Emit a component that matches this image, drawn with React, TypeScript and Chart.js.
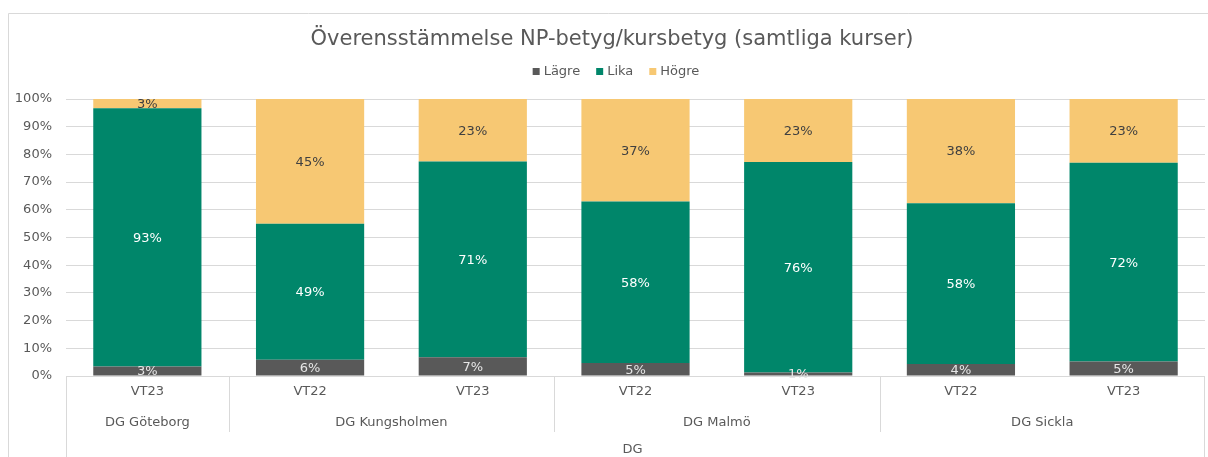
import React, { useEffect, useRef } from "react";
import { Chart, registerables } from "chart.js";

Chart.register(...registerables);

const titleText = "Överensstämmelse NP-betyg/kursbetyg (samtliga kurser)";
const categories = ["VT23", "VT22", "VT23", "VT22", "VT23", "VT22", "VT23"];
const groups = ["DG Göteborg", "DG Kungsholmen", "DG Kungsholmen", "DG Malmö", "DG Malmö", "DG Sickla", "DG Sickla"];
const topGroup = "DG";
const seriesNames = ["Lägre", "Lika", "Högre"];
const lagre = [3.4, 5.9, 6.8, 4.7, 1.3, 4.3, 5.2];
const lika = [93.3, 49.1, 70.6, 58.3, 76.0, 58.1, 71.8];
const hogre = [3.3, 45.0, 22.6, 37.0, 22.7, 37.6, 23.0];
const yTicks = [0, 10, 20, 30, 40, 50, 60, 70, 80, 90, 100];

const colors = ["#595959", "#00866A", "#F7C873"];
const labelColors = ["#E6E6E6", "#FFFFFF", "#404040"];
const FONT = "'DejaVu Sans', sans-serif";
const TEXT = "#595959";
const LINE = "#D9D9D9";

const decorPlugin = {
  id: "decor",
  beforeDraw(chart: any) {
    const ctx = chart.ctx;
    ctx.save();
    ctx.fillStyle = "#fff";
    ctx.fillRect(0, 0, chart.width, chart.height);
    ctx.strokeStyle = LINE;
    ctx.lineWidth = 1;
    ctx.beginPath();
    ctx.moveTo(8.5, chart.height);
    ctx.lineTo(8.5, 13.5);
    ctx.lineTo(chart.width, 13.5);
    ctx.stroke();
    // title
    ctx.fillStyle = TEXT;
    ctx.font = `21px ${FONT}`;
    ctx.textAlign = "center";
    ctx.textBaseline = "middle";
    ctx.fillText(titleText, 612, 40);
    // legend
    ctx.font = `13px ${FONT}`;
    ctx.textAlign = "left";
    const gap = 16;
    const box = 7;
    const widths = seriesNames.map((n) => box + 4 + ctx.measureText(n).width);
    const total = widths.reduce((a, b) => a + b, 0) + gap * (seriesNames.length - 1);
    let x = 616 - total / 2;
    seriesNames.forEach((n, i) => {
      ctx.fillStyle = colors[i];
      ctx.fillRect(x, 68, box, box);
      ctx.fillStyle = TEXT;
      ctx.fillText(n, x + box + 4, 72);
      x += widths[i] + gap;
    });
    ctx.restore();
  },
  afterDraw(chart: any) {
    const ctx = chart.ctx;
    const xs = chart.scales.x;
    const area = chart.chartArea;
    const n = categories.length;
    const left = area.left;
    const right = area.right;
    const bottom = area.bottom;
    const H = chart.height;
    const half = (xs.getPixelForValue(1) - xs.getPixelForValue(0)) / 2;
    ctx.save();
    ctx.strokeStyle = LINE;
    ctx.lineWidth = 1;
    ctx.beginPath();
    ctx.moveTo(left, bottom + 0.5);
    ctx.lineTo(right, bottom + 0.5);
    ctx.moveTo(Math.round(left) + 0.5, bottom);
    ctx.lineTo(Math.round(left) + 0.5, H);
    ctx.moveTo(Math.round(right) - 0.5, bottom);
    ctx.lineTo(Math.round(right) - 0.5, H);
    for (let i = 1; i < n; i++) {
      if (groups[i] !== groups[i - 1]) {
        const gx = Math.round(xs.getPixelForValue(i) - half) + 0.5;
        ctx.moveTo(gx, bottom);
        ctx.lineTo(gx, bottom + 56);
      }
    }
    ctx.stroke();
    ctx.fillStyle = TEXT;
    ctx.font = `13px ${FONT}`;
    ctx.textAlign = "center";
    ctx.textBaseline = "middle";
    categories.forEach((c, i) => {
      ctx.fillText(c, xs.getPixelForValue(i), bottom + 16);
    });
    let start = 0;
    for (let i = 1; i <= n; i++) {
      if (i === n || groups[i] !== groups[start]) {
        const gx = (xs.getPixelForValue(start) + xs.getPixelForValue(i - 1)) / 2;
        ctx.fillText(groups[start], gx, bottom + 47);
        start = i;
      }
    }
    ctx.fillText(topGroup, (left + right) / 2 - 3, bottom + 74);
    ctx.restore();
  },
  afterDatasetsDraw(chart: any) {
    const ctx = chart.ctx;
    ctx.save();
    ctx.font = `13px ${FONT}`;
    ctx.textAlign = "center";
    ctx.textBaseline = "middle";
    chart.data.datasets.forEach((ds: any, di: number) => {
      const meta = chart.getDatasetMeta(di);
      meta.data.forEach((el: any, i: number) => {
        const v = ds.data[i];
        ctx.fillStyle = labelColors[di];
        ctx.fillText(Math.round(v) + "%", el.x, (el.y + el.base) / 2 + 1);
      });
    });
    ctx.restore();
  },
};

export default function App() {
  const ref = useRef<HTMLCanvasElement>(null);
  useEffect(() => {
    if (!ref.current) return;
    const chart = new Chart(ref.current, {
      type: "bar",
      data: {
        labels: categories,
        datasets: [lagre, lika, hogre].map((d, i) => ({
          label: seriesNames[i],
          data: d,
          backgroundColor: colors[i],
          borderWidth: 0,
          barPercentage: 0.665,
          categoryPercentage: 1,
        })),
      },
      options: {
        animation: false,
        responsive: false,
        layout: { padding: { left: 8, right: 3, top: 99, bottom: 0 } },
        plugins: {
          legend: { display: false },
          title: { display: false },
          tooltip: { enabled: false },
        },
        scales: {
          x: {
            stacked: true,
            grid: { display: false },
            border: { display: false },
            ticks: { display: false },
            afterFit: (s: any) => {
              s.height = 81;
            },
          },
          y: {
            stacked: true,
            min: 0,
            max: 100,
            afterBuildTicks: (s: any) => {
              s.ticks = yTicks.map((v) => ({ value: v }));
            },
            grid: { color: LINE, drawTicks: false },
            border: { display: false },
            ticks: {
              padding: 14,
              color: TEXT,
              font: { family: FONT, size: 13 },
              callback: (v: any) => v + "%",
            },
            afterFit: (s: any) => {
              s.width = 58;
            },
          },
        },
      },
      plugins: [decorPlugin],
    });
    return () => chart.destroy();
  }, []);
  return (
    <div style={{ position: "absolute", left: 0, top: 0, width: 1208, height: 457, background: "#fff" }}>
      <canvas ref={ref} width={1208} height={457} style={{ display: "block" }} />
    </div>
  );
}
